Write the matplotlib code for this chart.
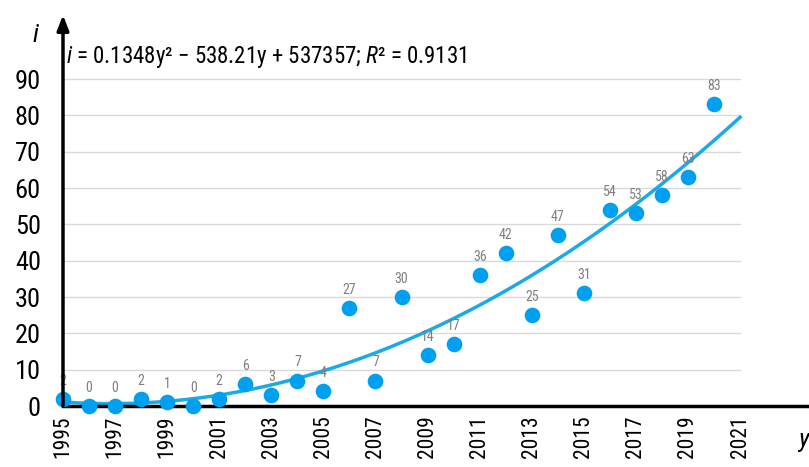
import numpy as np
import matplotlib
matplotlib.use("Agg")
import matplotlib.pyplot as plt

years = np.arange(1995, 2021)
counts = [2, 0, 0, 2, 1, 0, 2, 6, 3, 7, 4, 27, 7, 30, 14, 17,
          36, 42, 25, 47, 31, 54, 53, 58, 63, 83]
tick_years = list(range(1995, 2022, 2))
y_ticks = list(range(0, 100, 10))

blue = "#00A0F0"
cond = ["Roboto Condensed", "Asap Condensed", "DejaVu Sans"]
plt.rcParams["font.family"] = cond
plt.rcParams["mathtext.fontset"] = "custom"
plt.rcParams["mathtext.it"] = "Roboto Condensed:italic"
plt.rcParams["mathtext.rm"] = "Roboto Condensed"

fig = plt.figure(figsize=(8.09, 4.67), dpi=100)
ax = fig.add_axes([63 / 809, 61 / 467, 746 / 809, 391 / 467])
ax.set_xlim(1995, 1995 + 746 / 26.04)
ax.set_ylim(0, 391 / 3.633)

# grid lines only up to 2021
for v in y_ticks[1:]:
    ax.plot([1995, 2021], [v, v], color="#d9d9d9", lw=1, zorder=0)

# quadratic trend line (fit on centered years)
c = np.polyfit(years - 2008, counts, 2)
xs = np.linspace(1995, 2021, 200)
ax.plot(xs, np.polyval(c, xs - 2008), color="#1AAAE6", lw=2.5, zorder=2)

ax.scatter(years, counts, s=105, color=blue, zorder=3, clip_on=False)
for x, v in zip(years, counts):
    ax.annotate(str(v), (x, v), xytext=(0, 8), textcoords="offset points",
                ha="center", va="bottom", color="#7f7f7f", fontsize=10)

ax.spines["top"].set_visible(False)
ax.spines["right"].set_visible(False)
ax.spines["bottom"].set_linewidth(2.5)
ax.spines["left"].set_visible(False)
ax.annotate("", xy=(1995, 391 / 3.633), xytext=(1995, 0),
            arrowprops=dict(arrowstyle="-|>,head_width=0.35,head_length=0.9",
                            color="black", lw=2.5, shrinkA=0, shrinkB=0),
            annotation_clip=False)

ax.set_xticks(tick_years)
ax.set_xticklabels([str(t) for t in tick_years], rotation=90, fontsize=15.5)
ax.set_yticks(y_ticks)
ax.set_yticklabels([str(t) for t in y_ticks], fontsize=19)
ax.tick_params(length=0)
ax.tick_params(axis="x", pad=7)
ax.tick_params(axis="y", pad=16)

ax.text(1995.1, 96, r"$i$ = 0.1348y² − 538.21y + 537357; $R$² = 0.9131",
        fontsize=16.5, va="center", ha="left")
fig.text(35 / 809, 1 - 35 / 467, "i", fontsize=19, style="italic",
         ha="center", va="center")
fig.text(803 / 809, 1 - 440 / 467, "y", fontsize=19, style="italic",
         ha="center", va="center")

fig.savefig("out.png", dpi=100)
